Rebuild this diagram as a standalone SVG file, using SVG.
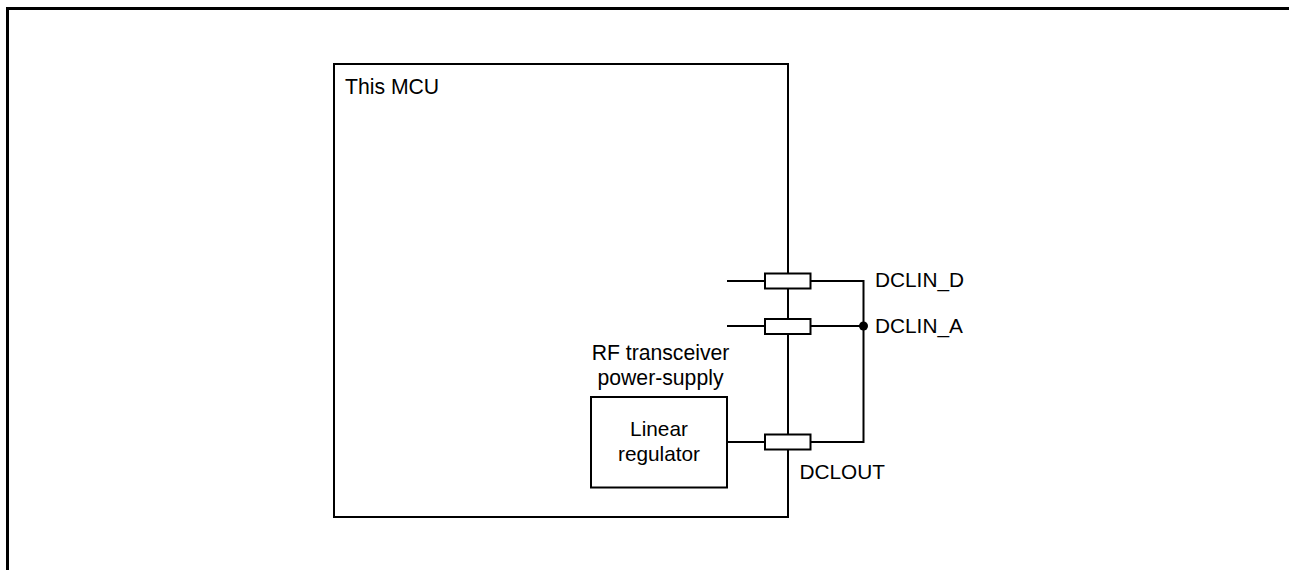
<svg xmlns="http://www.w3.org/2000/svg" width="1289" height="570" viewBox="0 0 1289 570">
<style>
.l{fill:none;stroke:#000;stroke-width:2}
.p{fill:#fff;stroke:#000;stroke-width:2}
text{font-family:"Liberation Sans",Arial,sans-serif;font-size:20.800px;fill:#000}
.b{font-size:21.200px}
.c{text-anchor:middle}
</style>
<rect width="1289" height="570" fill="#fff"/>
<path id="frame" d="M7.500 570V8.500H1289" fill="none" stroke="#000" stroke-width="3"/>
<g id="mcu"><rect class="l" x="334" y="64" width="454" height="453"/><text class="b" x="345" y="94">This MCU</text></g>
<g id="connectors">
<path class="l" d="M727 281H863.500V442H727M727 326H863.500"/>
</g>
<g id="junction"><circle cx="863.500" cy="326" r="4.500" fill="#000"/></g>
<g id="regulator"><rect class="l" x="591" y="397" width="136" height="90.500"/><text class="c" x="659" y="436">Linear</text><text class="c" x="659" y="461">regulator</text></g>
<g id="regulator-label"><text class="c b" x="660.500" y="360">RF transceiver</text><text class="c b" x="660.500" y="385">power-supply</text></g>
<g id="pad-dclin-d"><rect class="p" x="765" y="273.500" width="45.500" height="15"/><text x="875" y="287">DCLIN_D</text></g>
<g id="pad-dclin-a"><rect class="p" x="765" y="319" width="45.500" height="15"/><text x="875" y="333">DCLIN_A</text></g>
<g id="pad-dclout"><rect class="p" x="765" y="434.500" width="45.500" height="15"/><text x="799.500" y="479">DCLOUT</text></g>
</svg>
